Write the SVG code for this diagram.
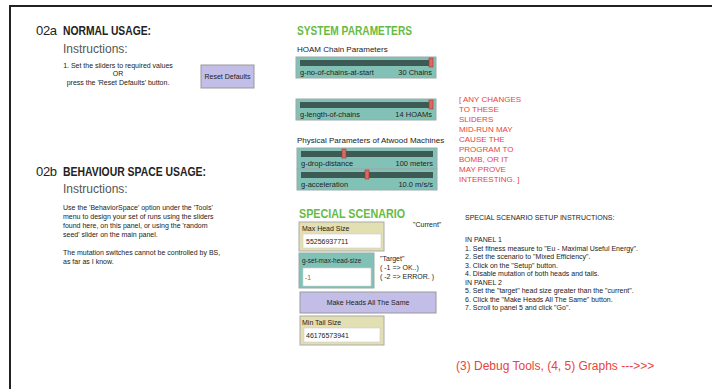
<svg xmlns="http://www.w3.org/2000/svg" width="712" height="389" viewBox="0 0 712 389">
<style>
text{font-family:"Liberation Sans","DejaVu Sans",sans-serif;fill:#222}
.h{font-size:13px}
.hb{font-size:12px;font-weight:bold}
.ins{font-size:12px;fill:#555}
.s{font-size:7px}
.sv{font-size:7.5px}
.sm{font-size:8px}
.g{font-size:12px;font-weight:bold;fill:#66bb44}
.r{font-size:8px;fill:#e8443a}
.sl{fill:#82c2b6;stroke:#9aa;stroke-width:1}
.tr{fill:#3d5a55}
.hd{fill:#d96a60;stroke:#a33;stroke-width:0.6}
.mon{fill:#e2dfb2;stroke:#aaa;stroke-width:1}
.wb{fill:#fff;stroke:#ccc;stroke-width:0.6}
.btn{fill:#c2bee8;stroke:#999;stroke-width:1}
</style>
<rect x="0" y="0" width="712" height="389" fill="#fff"/>
<g id="frame"><path d="M10,389 V6 H712" fill="none" stroke="#222" stroke-width="2"/></g>
<g id="sec02a">
<text x="36" y="35" class="h" textLength="21">02a</text><text x="63" y="35" class="hb" textLength="88" lengthAdjust="spacingAndGlyphs">NORMAL USAGE:</text>
<text x="63" y="53" class="ins">Instructions:</text>
<text x="118" y="68" class="s" text-anchor="middle">1. Set the sliders to required values</text>
<text x="118" y="76" class="s" text-anchor="middle">OR</text>
<text x="118" y="85" class="s" text-anchor="middle">press the 'Reset Defaults' button.</text>
</g>
<g id="reset-defaults"><rect x="201" y="65" width="53" height="23" class="btn"/><text x="227.5" y="79" class="s" text-anchor="middle">Reset Defaults</text></g>
<g id="sec02b">
<text x="36" y="176" class="h" textLength="21">02b</text><text x="63" y="176" class="hb" textLength="143" lengthAdjust="spacingAndGlyphs">BEHAVIOUR SPACE USAGE:</text>
<text x="63" y="193" class="ins">Instructions:</text>
<text x="63" y="210" class="s">Use the 'BehaviorSpace' option under the 'Tools'</text>
<text x="63" y="219" class="s">menu to design your set of runs using the sliders</text>
<text x="63" y="228" class="s">found here, on this panel, or using the 'random</text>
<text x="63" y="237" class="s">seed' slider on the main panel.</text>
<text x="63" y="255" class="s">The mutation switches cannot be controlled by BS,</text>
<text x="63" y="264" class="s">as far as I know.</text>
</g>
<g id="sys-params">
<text x="297" y="35" class="g" textLength="115" lengthAdjust="spacingAndGlyphs">SYSTEM PARAMETERS</text>
<text x="297" y="52" class="sm">HOAM Chain Parameters</text>
</g>
<g id="slider-chains"><rect x="296" y="57" width="140" height="21" class="sl"/><rect x="300" y="60" width="132" height="6" class="tr"/><rect x="429" y="58" width="4" height="9" class="hd"/><text x="300" y="75" class="sv">g-no-of-chains-at-start</text><text x="432" y="75" class="sv" text-anchor="end">30 Chains</text></g>
<g id="slider-length"><rect x="296" y="99" width="140" height="21" class="sl"/><rect x="300" y="102" width="132" height="6" class="tr"/><rect x="429" y="100" width="4" height="9" class="hd"/><text x="300" y="117" class="sv">g-length-of-chains</text><text x="432" y="117" class="sv" text-anchor="end">14 HOAMs</text></g>
<g id="warning">
<text x="459" y="102" class="r">[ ANY CHANGES</text>
<text x="459" y="112" class="r">TO THESE</text>
<text x="459" y="122" class="r">SLIDERS</text>
<text x="459" y="132" class="r">MID-RUN MAY</text>
<text x="459" y="142" class="r">CAUSE THE</text>
<text x="459" y="152" class="r">PROGRAM TO</text>
<text x="459" y="162" class="r">BOMB, OR IT</text>
<text x="459" y="172" class="r">MAY PROVE</text>
<text x="459" y="182" class="r">INTERESTING. ]</text>
</g>
<text x="297" y="143" class="sm">Physical Parameters of Atwood Machines</text>
<g id="slider-drop"><rect x="297" y="148" width="140" height="21" class="sl"/><rect x="301" y="151" width="132" height="6" class="tr"/><rect x="342" y="149" width="4" height="9" class="hd"/><text x="301" y="166" class="sv">g-drop-distance</text><text x="433" y="166" class="sv" text-anchor="end">100 meters</text></g>
<g id="slider-accel"><rect x="297" y="169" width="140" height="21" class="sl"/><rect x="301" y="172" width="132" height="6" class="tr"/><rect x="365" y="170" width="4" height="9" class="hd"/><text x="301" y="187" class="sv">g-acceleration</text><text x="433" y="187" class="sv" text-anchor="end">10.0 m/s/s</text></g>
<g id="special">
<text x="299" y="218" class="g" textLength="106" lengthAdjust="spacingAndGlyphs">SPECIAL SCENARIO</text>
</g>
<g id="mon-max-head"><rect x="299" y="222" width="85" height="29" class="mon"/><text x="302" y="231" class="s">Max Head Size</text><rect x="303" y="234" width="78" height="14" class="wb"/><text x="306" y="244" class="s">55256937711</text></g>
<text x="413" y="227" class="s">"Current"</text>
<g id="input-target"><rect x="299" y="253" width="75" height="35" fill="#82c2b6" stroke="#9aa"/><text x="302" y="263" style="font-size:6.5px">g-set-max-head-size</text><rect x="303" y="268" width="68" height="18" class="wb"/><text x="305" y="280" class="s" style="fill:#c0601a">-1</text></g>
<text x="380" y="261" class="s">"Target"</text>
<text x="380" y="270" class="s">( -1 =&gt; OK..)</text>
<text x="380" y="279" class="s">( -2 =&gt; ERROR. )</text>
<g id="btn-make-heads"><rect x="300" y="292" width="136" height="21" class="btn"/><text x="368" y="305" class="s" text-anchor="middle">Make Heads All The Same</text></g>
<g id="mon-min-tail"><rect x="300" y="316" width="84" height="29" class="mon"/><text x="302" y="325" class="s">Min Tail Size</text><rect x="304" y="328" width="76" height="14" class="wb"/><text x="306" y="338" class="s">46176573941</text></g>
<g id="setup-instr">
<text x="465" y="220" class="s">SPECIAL SCENARIO SETUP INSTRUCTIONS:</text>
<text x="465" y="242" class="s">IN PANEL 1</text>
<text x="465" y="251" class="s">1. Set fitness measure to "Eu - Maximal Useful Energy".</text>
<text x="465" y="259" class="s">2. Set the scenario to "Mixed Efficiency".</text>
<text x="465" y="268" class="s">3. Click on the "Setup" button.</text>
<text x="465" y="276" class="s">4. Disable mutation of both heads and tails.</text>
<text x="465" y="285" class="s">IN PANEL 2</text>
<text x="465" y="293" class="s">5. Set the "target" head size greater than the "current".</text>
<text x="465" y="302" class="s">6. Click the "Make Heads All The Same" button.</text>
<text x="465" y="310" class="s">7. Scroll to panel 5 and click "Go".</text>
</g>
<text x="456" y="370" style="font-size:12px;fill:#e8443a">(3) Debug Tools, (4, 5) Graphs ---&gt;&gt;&gt;</text>
</svg>
